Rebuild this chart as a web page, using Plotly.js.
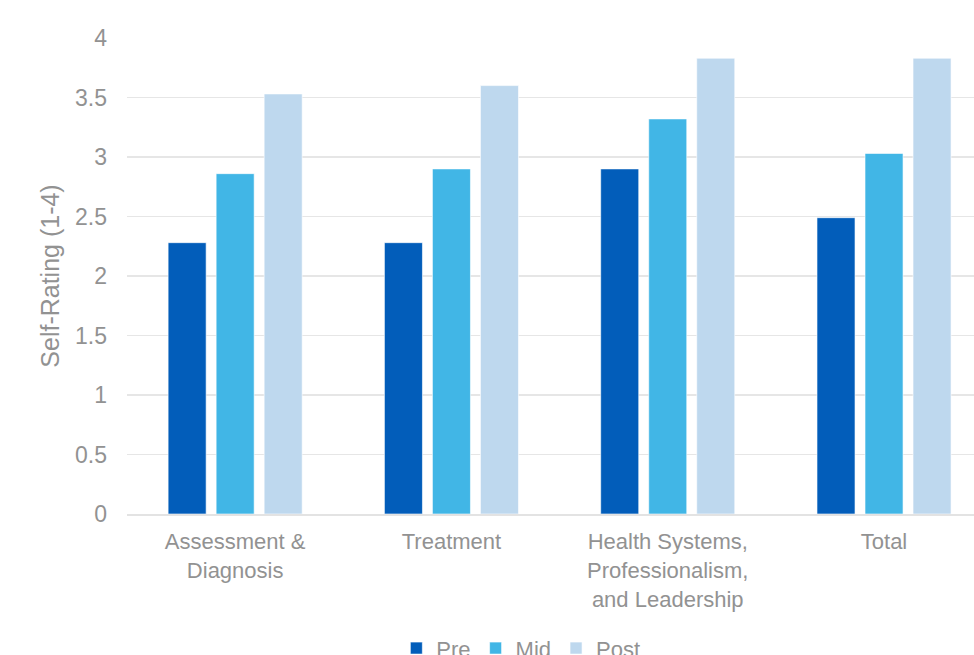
<!DOCTYPE html>
<html>
<head>
<meta charset="utf-8">
<script src="https://cdn.plot.ly/plotly-3.0.1.min.js"></script>
<style>
html,body{margin:0;padding:0;overflow:hidden;background:#fff;}
#chart{width:974px;height:655px;}
</style>
</head>
<body>
<div id="chart"></div>
<script>
const categories = ["Assessment &<br>Diagnosis", "Treatment", "Health Systems,<br>Professionalism,<br>and Leadership", "Total"];
const seriesNames = ["Pre", "Mid", "Post"];
const preValues = [2.28, 2.28, 2.90, 2.49];
const midValues = [2.86, 2.90, 3.32, 3.03];
const postValues = [3.53, 3.60, 3.83, 3.83];
const yTicks = [0, 0.5, 1, 1.5, 2, 2.5, 3, 3.5, 4];
const yTickText = ["0", "0.5", "1", "1.5", "2", "2.5", "3", "3.5", "4"];

const colors = ["#025DBA", "#41B6E6", "#BED8EE"];
const values = [preValues, midValues, postValues];
const xIdx = categories.map((c, i) => i);

const traces = seriesNames.map((name, k) => ({
  type: "bar",
  name: name,
  x: xIdx,
  y: values[k],
  marker: {color: colors[k], line: {color: "rgba(255,255,255,0.6)", width: 1}},
  hoverinfo: "y+name"
}));

const fontFam = "'Liberation Sans', Arial, sans-serif";
const textColor = "#929292";
const layout = {
  width: 974,
  height: 655,
  margin: {l: 127, r: 0, t: 38, b: 141, autoexpand: false},
  paper_bgcolor: "#ffffff",
  plot_bgcolor: "#ffffff",
  barmode: "group",
  bargap: 0.334,
  bargroupgap: 0.208,
  font: {family: fontFam, color: textColor, size: 22},
  showlegend: true,
  legend: {
    orientation: "h",
    x: 0.318, xanchor: "left",
    y: -0.238, yanchor: "top",
    font: {family: fontFam, size: 22, color: textColor},
    itemwidth: 30,
    tracegroupgap: 0
  },
  xaxis: {
    range: [-0.5, 3.416],
    tickmode: "array",
    tickvals: xIdx,
    ticktext: categories,
    showgrid: false,
    zeroline: false,
    showline: true,
    linecolor: "#E3E3E3",
    linewidth: 2,
    ticks: "",
    ticklabelstandoff: 7,
    tickfont: {family: fontFam, size: 22, color: textColor},
    fixedrange: true
  },
  yaxis: {
    range: [0, 4],
    tickmode: "array",
    tickvals: yTicks,
    ticktext: yTickText,
    showgrid: true,
    gridcolor: "#E6E6E6",
    gridwidth: 1.5,
    zeroline: false,
    showline: false,
    ticks: "",
    ticklabelstandoff: 19,
    tickfont: {family: fontFam, size: 23, color: textColor},
    title: {text: "Self-Rating (1-4)", font: {family: fontFam, size: 25, color: textColor}, standoff: 8},
    fixedrange: true
  }
};

Plotly.newPlot("chart", traces, layout, {displayModeBar: false, staticPlot: true});
</script>
</body>
</html>
